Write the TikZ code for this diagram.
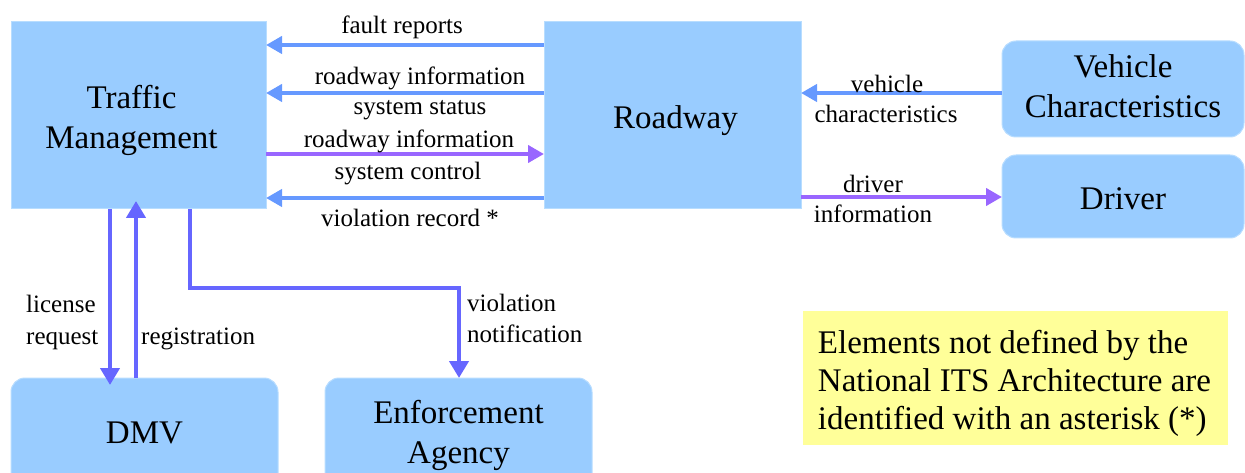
\documentclass[tikz,border=0pt]{standalone}
\usepackage{fontspec}
\setmainfont{Liberation Serif}
\usetikzlibrary{arrows.meta,calc}
\definecolor{boxfill}{HTML}{99CCFF}
\definecolor{boxline}{HTML}{B8DDFF}
\definecolor{flowblue}{HTML}{6699FF}
\definecolor{flowpurple}{HTML}{9966FF}
\definecolor{flowviolet}{HTML}{6666FF}
\definecolor{notefill}{HTML}{FFFF99}
\tikzset{
  bigtext/.style={font=\fontsize{33}{40}\selectfont, align=center, inner sep=0pt},
  sqbox/.style={fill=boxfill, draw=boxline, line width=1pt, inner sep=0pt, outer sep=0pt},
  rndbox/.style={sqbox, rounded corners=14pt},
  lbl/.style={font=\fontsize{25}{30}\selectfont, inner sep=0pt, text height=17.5pt, text depth=5pt, yshift=-3pt},
  flow/.style={line width=4pt, -{Triangle[length=16pt,width=17pt]}},
  fblue/.style={flow, draw=flowblue},
  fpurple/.style={flow, draw=flowpurple},
  fviolet/.style={flow, draw=flowviolet, line width=4.5pt, -{Triangle[length=17pt,width=19pt]}},
}
\begin{document}
\begin{tikzpicture}[x=1pt,y=-1pt]
\useasboundingbox (0,0) rectangle (1245,473);

% boxes
\node[sqbox, minimum width=255pt, minimum height=187pt,
      label={[bigtext, name=tmtext, xshift=-7pt, yshift=-5pt]center:{Traffic\\Management}}] (tm) at (138.5,115.5) {};
\node[sqbox, minimum width=257pt, minimum height=187pt,
      label={[bigtext, name=rwtext, xshift=3pt, yshift=-5pt]center:{Roadway}}] (rw) at (672.5,115.5) {};
\node[rndbox, minimum width=242pt, minimum height=96pt,
      label={[bigtext, name=vctext, yshift=3pt]center:{Vehicle\\Characteristics}}] (vc) at (1123,89) {};
\node[rndbox, minimum width=242pt, minimum height=83pt,
      label={[bigtext, name=drvtext, yshift=-2pt]center:{Driver}}] (drv) at (1123,196.5) {};
\node[rndbox, minimum width=267pt, minimum height=110pt,
      label={[bigtext, name=dmvtext]center:{DMV}}] (dmv) at (144.5,433) {};
\node[rndbox, minimum width=267pt, minimum height=110pt,
      label={[bigtext, name=enftext, yshift=-2pt]center:{Enforcement\\Agency}}] (enf) at (458.5,433) {};
\node[fill=notefill, inner sep=0pt, minimum width=425pt, minimum height=134pt,
      label={[font=\fontsize{33}{38}\selectfont, align=left, inner sep=0pt, name=notetext, xshift=-1pt, yshift=-5pt]center:{Elements not defined by the\\National ITS Architecture are\\identified with an asterisk (*)}}] (note) at (1015.5,378) {};

% horizontal flows
\draw[fblue] (rw.west |- 0,45) -- (tm.east |- 0,45);
\draw[fblue] (rw.west |- 0,93) -- (tm.east |- 0,93);
\draw[fpurple] (tm.east |- 0,154) -- (rw.west |- 0,154);
\draw[fblue] (rw.west |- 0,198) -- (tm.east |- 0,198);
\draw[fblue] (vc.west |- 0,93) -- (rw.east |- 0,93);
\draw[fpurple] (rw.east |- 0,197) -- (drv.west |- 0,197);

% vertical flows
\draw[fviolet, shorten >=-7pt] (tm.south -| 110,0) -- (dmv.north -| 110,0);
\draw[fviolet, shorten >=-8pt] (dmv.north -| 136,0) -- (tm.south -| 136,0);
\coordinate (vnbend) at (459,288);
\draw[fviolet] (tm.south -| 190,0) |- (vnbend) -- (enf.north -| vnbend);

% labels
\node[lbl] (l1) at (402,24) {fault reports};
\node[lbl] (l2) at (420,75) {roadway information};
\node[lbl] (l3) at (420,105) {system status};
\node[lbl] (l4) at (409,138) {roadway information};
\node[lbl] (l5) at (408,170) {system control};
\node[lbl] (l6) at (410,217) {violation record *};
\node[lbl] (l7) at (887,83) {vehicle};
\node[lbl] (l8) at (886,113) {characteristics};
\node[lbl] (l9) at (873,183) {driver};
\node[lbl] (l10) at (873,213) {information};
\node[lbl, anchor=west] (l11) at (26,303) {license};
\node[lbl, anchor=west] (l12) at (26,335) {request};
\node[lbl, anchor=west] (l13) at (141,335) {registration};
\node[lbl, anchor=west] (l14) at (467,302) {violation};
\node[lbl, anchor=west] (l15) at (467,333) {notification};
\end{tikzpicture}
\end{document}
